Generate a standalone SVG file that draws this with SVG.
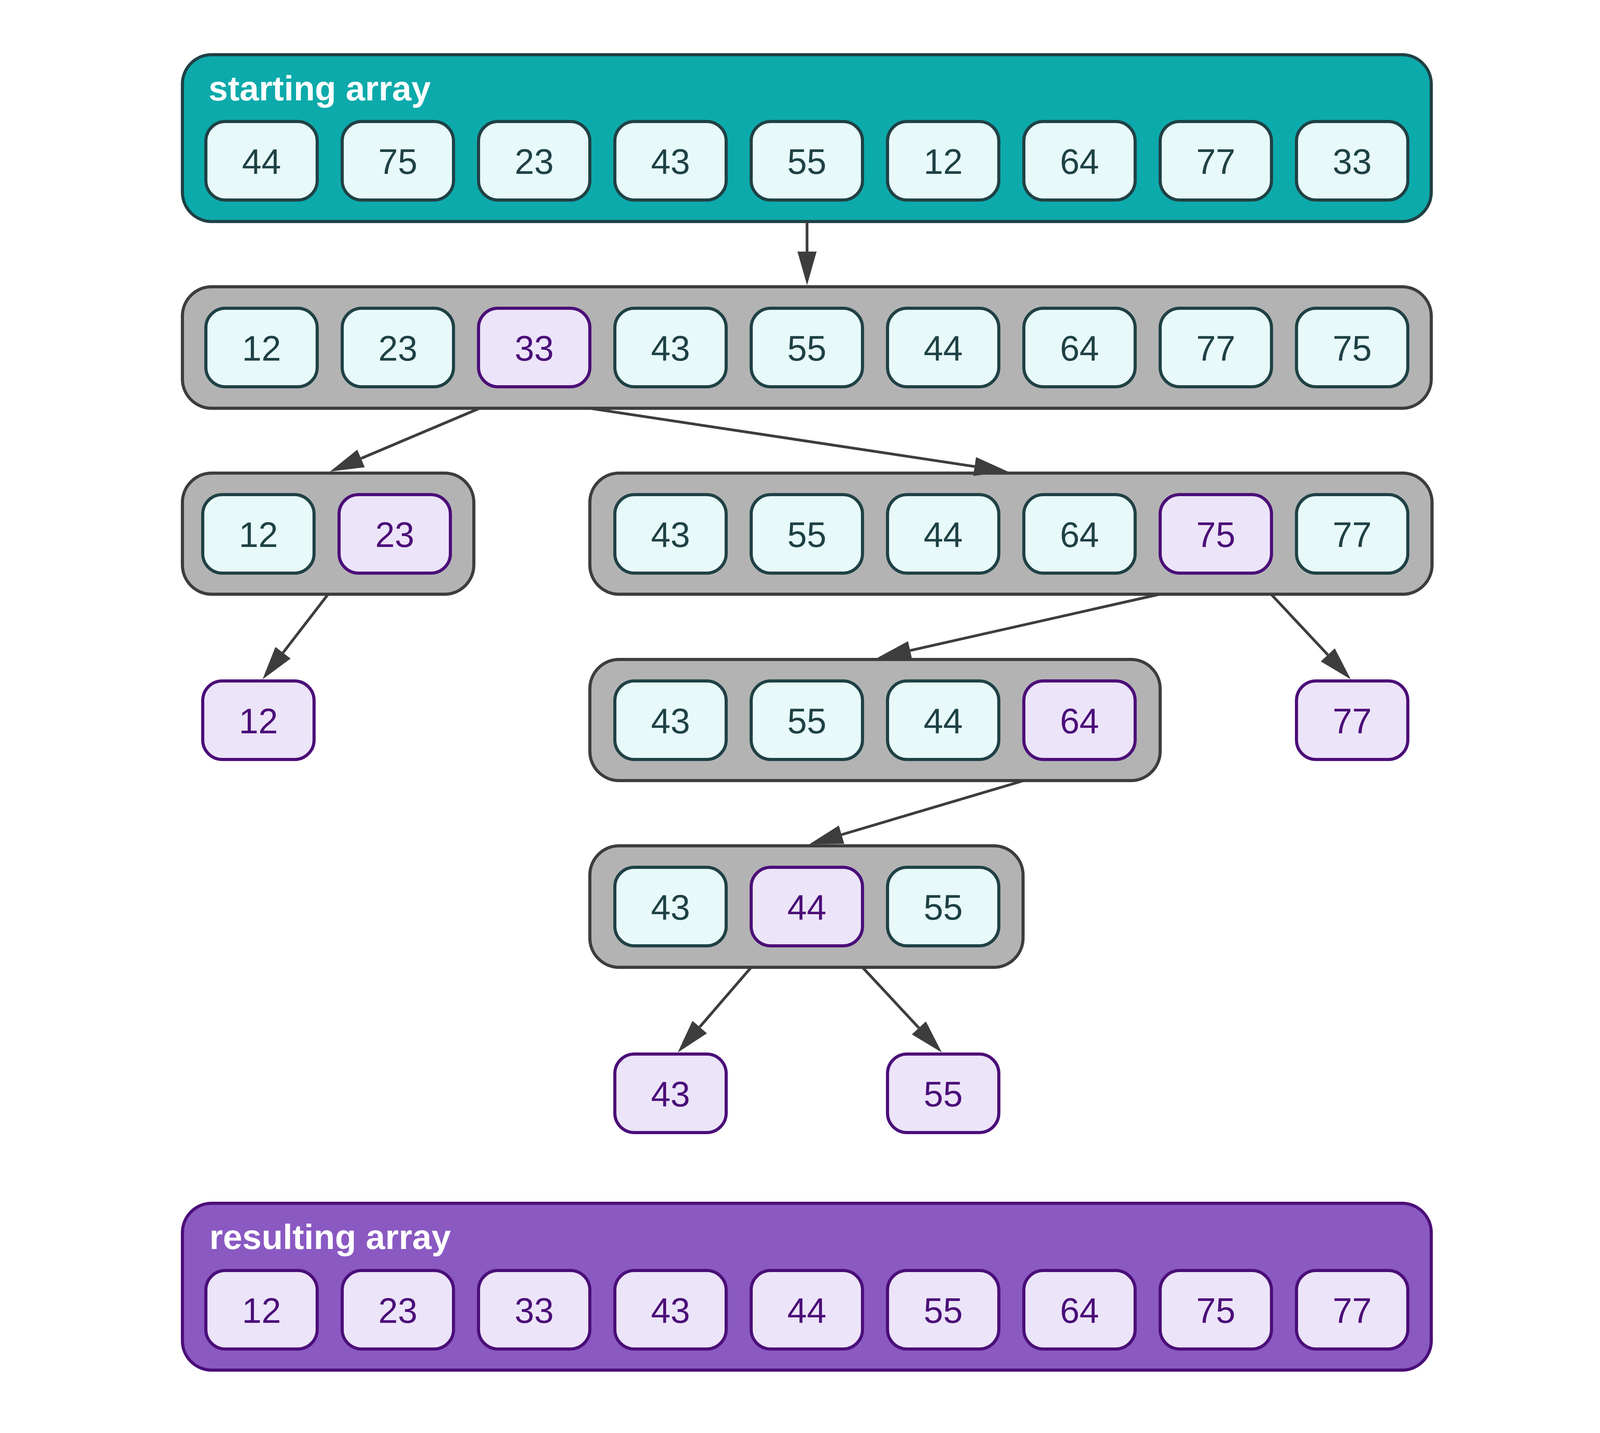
<svg xmlns="http://www.w3.org/2000/svg" width="4168" height="3668" viewBox="0 0 4168 3668">
<style>
.tealbox{fill:#0DAAAB;stroke:#1F4145;stroke-width:8}
.graybox{fill:#B3B3B3;stroke:#3D3D3D;stroke-width:8}
.purplebox{fill:#8A59C2;stroke:#4B0E78;stroke-width:8}
.cell{fill:#E7F9F9;stroke:#1F4145;stroke-width:8}
.pcell{fill:#ECE4F8;stroke:#4B0E78;stroke-width:8}
.num{font-family:"Liberation Sans",Arial,sans-serif;font-size:90px;fill:#1F4145;text-anchor:middle}
.pnum{font-family:"Liberation Sans",Arial,sans-serif;font-size:90px;fill:#4B0E78;text-anchor:middle}
.title{font-family:"Liberation Sans",Arial,sans-serif;font-size:89px;font-weight:bold;fill:#FFFFFF}
.edge{fill:none;stroke:#3D3D3D;stroke-width:7}
</style>
<defs>
<marker id="arrow" markerUnits="userSpaceOnUse" markerWidth="86" markerHeight="49" refX="0" refY="24.5" orient="auto" overflow="visible">
<path d="M0,0 L86,24.5 L0,49 Z" fill="#3D3D3D"/>
</marker>
</defs>
<rect width="4168" height="3668" fill="#FFFFFF"/>

<g id="starting-array">
<rect class="tealbox" x="467" y="140" width="3197" height="427" rx="75"/>
<text class="title" x="534" y="257">starting array</text>
<g id="s0"><rect class="cell" x="527" y="311" width="285" height="201" rx="50"/><text class="num" x="669.5" y="444.5">44</text></g>
<g id="s1"><rect class="cell" x="876" y="311" width="285" height="201" rx="50"/><text class="num" x="1018.5" y="444.5">75</text></g>
<g id="s2"><rect class="cell" x="1225" y="311" width="285" height="201" rx="50"/><text class="num" x="1367.5" y="444.5">23</text></g>
<g id="s3"><rect class="cell" x="1574" y="311" width="285" height="201" rx="50"/><text class="num" x="1716.5" y="444.5">43</text></g>
<g id="s4"><rect class="cell" x="1923" y="311" width="285" height="201" rx="50"/><text class="num" x="2065.5" y="444.5">55</text></g>
<g id="s5"><rect class="cell" x="2272" y="311" width="285" height="201" rx="50"/><text class="num" x="2414.5" y="444.5">12</text></g>
<g id="s6"><rect class="cell" x="2621" y="311" width="285" height="201" rx="50"/><text class="num" x="2763.5" y="444.5">64</text></g>
<g id="s7"><rect class="cell" x="2970" y="311" width="285" height="201" rx="50"/><text class="num" x="3112.5" y="444.5">77</text></g>
<g id="s8"><rect class="cell" x="3319" y="311" width="285" height="201" rx="50"/><text class="num" x="3461.5" y="444.5">33</text></g>
</g>

<g id="step1">
<rect class="graybox" x="467" y="734" width="3197" height="311" rx="75"/>
<g id="a0"><rect class="cell" x="527" y="789" width="285" height="201" rx="50"/><text class="num" x="669.5" y="922.5">12</text></g>
<g id="a1"><rect class="cell" x="876" y="789" width="285" height="201" rx="50"/><text class="num" x="1018.5" y="922.5">23</text></g>
<g id="a2"><rect class="pcell" x="1225" y="789" width="285" height="201" rx="50"/><text class="pnum" x="1367.5" y="922.5">33</text></g>
<g id="a3"><rect class="cell" x="1574" y="789" width="285" height="201" rx="50"/><text class="num" x="1716.5" y="922.5">43</text></g>
<g id="a4"><rect class="cell" x="1923" y="789" width="285" height="201" rx="50"/><text class="num" x="2065.5" y="922.5">55</text></g>
<g id="a5"><rect class="cell" x="2272" y="789" width="285" height="201" rx="50"/><text class="num" x="2414.5" y="922.5">44</text></g>
<g id="a6"><rect class="cell" x="2621" y="789" width="285" height="201" rx="50"/><text class="num" x="2763.5" y="922.5">64</text></g>
<g id="a7"><rect class="cell" x="2970" y="789" width="285" height="201" rx="50"/><text class="num" x="3112.5" y="922.5">77</text></g>
<g id="a8"><rect class="cell" x="3319" y="789" width="285" height="201" rx="50"/><text class="num" x="3461.5" y="922.5">75</text></g>
</g>

<g id="step2-left">
<rect class="graybox" x="467" y="1211" width="746" height="310" rx="75"/>
<g id="b0"><rect class="cell" x="519" y="1266" width="285" height="201" rx="50"/><text class="num" x="661.5" y="1399.5">12</text></g>
<g id="b1"><rect class="pcell" x="868" y="1266" width="285" height="201" rx="50"/><text class="pnum" x="1010.5" y="1399.5">23</text></g>
</g>

<g id="step2-right">
<rect class="graybox" x="1510" y="1211" width="2156" height="310" rx="75"/>
<g id="c3"><rect class="cell" x="1574" y="1266" width="285" height="201" rx="50"/><text class="num" x="1716.5" y="1399.5">43</text></g>
<g id="c4"><rect class="cell" x="1923" y="1266" width="285" height="201" rx="50"/><text class="num" x="2065.5" y="1399.5">55</text></g>
<g id="c5"><rect class="cell" x="2272" y="1266" width="285" height="201" rx="50"/><text class="num" x="2414.5" y="1399.5">44</text></g>
<g id="c6"><rect class="cell" x="2621" y="1266" width="285" height="201" rx="50"/><text class="num" x="2763.5" y="1399.5">64</text></g>
<g id="c7"><rect class="pcell" x="2970" y="1266" width="285" height="201" rx="50"/><text class="pnum" x="3112.5" y="1399.5">75</text></g>
<g id="c8"><rect class="cell" x="3319" y="1266" width="285" height="201" rx="50"/><text class="num" x="3461.5" y="1399.5">77</text></g>
</g>

<g id="leaf-12">
<rect class="pcell" x="519" y="1743" width="285" height="201" rx="50"/><text class="pnum" x="661.5" y="1876.5">12</text>
</g>

<g id="step3">
<rect class="graybox" x="1510" y="1688" width="1460" height="310" rx="75"/>
<g id="d3"><rect class="cell" x="1574" y="1743" width="285" height="201" rx="50"/><text class="num" x="1716.5" y="1876.5">43</text></g>
<g id="d4"><rect class="cell" x="1923" y="1743" width="285" height="201" rx="50"/><text class="num" x="2065.5" y="1876.5">55</text></g>
<g id="d5"><rect class="cell" x="2272" y="1743" width="285" height="201" rx="50"/><text class="num" x="2414.5" y="1876.5">44</text></g>
<g id="d6"><rect class="pcell" x="2621" y="1743" width="285" height="201" rx="50"/><text class="pnum" x="2763.5" y="1876.5">64</text></g>
</g>

<g id="leaf-77">
<rect class="pcell" x="3319" y="1743" width="285" height="201" rx="50"/><text class="pnum" x="3461.5" y="1876.5">77</text>
</g>

<g id="step4">
<rect class="graybox" x="1510" y="2165" width="1109" height="311" rx="75"/>
<g id="e3"><rect class="cell" x="1574" y="2220" width="285" height="201" rx="50"/><text class="num" x="1716.5" y="2353.5">43</text></g>
<g id="e4"><rect class="pcell" x="1923" y="2220" width="285" height="201" rx="50"/><text class="pnum" x="2065.5" y="2353.5">44</text></g>
<g id="e5"><rect class="cell" x="2272" y="2220" width="285" height="201" rx="50"/><text class="num" x="2414.5" y="2353.5">55</text></g>
</g>

<g id="leaf-43">
<rect class="pcell" x="1574" y="2698" width="285" height="201" rx="50"/><text class="pnum" x="1716.5" y="2831.5">43</text>
</g>

<g id="leaf-55">
<rect class="pcell" x="2272" y="2698" width="285" height="201" rx="50"/><text class="pnum" x="2414.5" y="2831.5">55</text>
</g>

<g id="resulting-array">
<rect class="purplebox" x="467" y="3080" width="3197" height="427" rx="75"/>
<text class="title" x="536" y="3197">resulting array</text>
<g id="r0"><rect class="pcell" x="527" y="3252" width="285" height="201" rx="50"/><text class="pnum" x="669.5" y="3385.5">12</text></g>
<g id="r1"><rect class="pcell" x="876" y="3252" width="285" height="201" rx="50"/><text class="pnum" x="1018.5" y="3385.5">23</text></g>
<g id="r2"><rect class="pcell" x="1225" y="3252" width="285" height="201" rx="50"/><text class="pnum" x="1367.5" y="3385.5">33</text></g>
<g id="r3"><rect class="pcell" x="1574" y="3252" width="285" height="201" rx="50"/><text class="pnum" x="1716.5" y="3385.5">43</text></g>
<g id="r4"><rect class="pcell" x="1923" y="3252" width="285" height="201" rx="50"/><text class="pnum" x="2065.5" y="3385.5">44</text></g>
<g id="r5"><rect class="pcell" x="2272" y="3252" width="285" height="201" rx="50"/><text class="pnum" x="2414.5" y="3385.5">55</text></g>
<g id="r6"><rect class="pcell" x="2621" y="3252" width="285" height="201" rx="50"/><text class="pnum" x="2763.5" y="3385.5">64</text></g>
<g id="r7"><rect class="pcell" x="2970" y="3252" width="285" height="201" rx="50"/><text class="pnum" x="3112.5" y="3385.5">75</text></g>
<g id="r8"><rect class="pcell" x="3319" y="3252" width="285" height="201" rx="50"/><text class="pnum" x="3461.5" y="3385.5">77</text></g>
</g>

<g id="connectors">
<path class="edge" marker-end="url(#arrow)" d="M2066,567 L2066,644"/>
<path class="edge" marker-end="url(#arrow)" d="M1228,1045 L924.2,1173.5"/>
<path class="edge" marker-end="url(#arrow)" d="M1509,1045 L2495,1194.1"/>
<path class="edge" marker-end="url(#arrow)" d="M840,1521 L724.5,1670.9"/>
<path class="edge" marker-end="url(#arrow)" d="M2969,1521 L2329.9,1665.1"/>
<path class="edge" marker-end="url(#arrow)" d="M3254,1521 L3399.2,1676.2"/>
<path class="edge" marker-end="url(#arrow)" d="M2621,1998 L2154.4,2136.5"/>
<path class="edge" marker-end="url(#arrow)" d="M1923,2476 L1791.2,2628.9"/>
<path class="edge" marker-end="url(#arrow)" d="M2208,2476 L2352.4,2631.1"/>
</g>
</svg>
